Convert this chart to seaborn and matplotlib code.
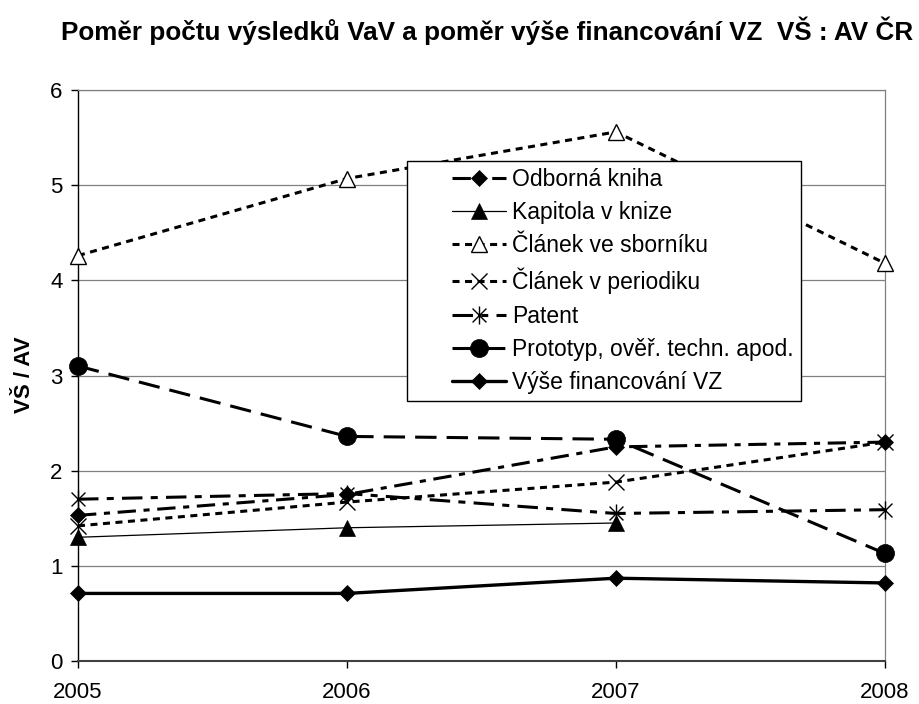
import numpy as np
import pandas as pd
import seaborn as sns
import matplotlib.pyplot as plt
from matplotlib.path import Path
from matplotlib.legend_handler import HandlerLine2D

years = [2005, 2006, 2007, 2008]
odborna_kniha = [1.53, 1.75, 2.25, 2.30]
kapitola = [1.30, 1.40, 1.45, np.nan]
clanek_sbornik = [4.26, 5.07, 5.56, 4.18]
clanek_periodikum = [1.42, 1.67, 1.88, 2.30]
patent = [1.70, 1.76, 1.55, 1.59]
prototyp = [3.10, 2.36, 2.33, 1.13]
vyse_vz = [0.71, 0.71, 0.87, 0.82]

names = ["Odborná kniha", "Kapitola v knize", "Článek ve sborníku",
         "Článek v periodiku", "Patent", "Prototyp, ověř. techn. apod.",
         "Výše financování VZ"]
values = [odborna_kniha, kapitola, clanek_sbornik, clanek_periodikum,
          patent, prototyp, vyse_vz]

df = pd.DataFrame({"rok": years * len(names),
                   "serie": np.repeat(names, len(years)),
                   "pomer": np.concatenate(values)})

sns.set_style("white")
plt.rcParams["font.family"] = ["Liberation Sans", "DejaVu Sans"]
plt.rcParams["text.color"] = "black"

# excel-like asterisk: x with a vertical bar
star = Path([(-1, -1), (1, 1), (-1, 1), (1, -1), (0, -1.3), (0, 1.3)],
            [Path.MOVETO, Path.LINETO, Path.MOVETO, Path.LINETO,
             Path.MOVETO, Path.LINETO])

styles = {
    "Odborná kniha": dict(lw=2.2, ls=(0, (6, 2.5, 2, 2.5)), marker="D", ms=8),
    "Kapitola v knize": dict(lw=0.9, ls="-", marker="^", ms=11),
    "Článek ve sborníku": dict(lw=2.2, ls=(0, (2.3, 1.8)), marker="^", ms=11,
                               mfc="white", mew=1),
    "Článek v periodiku": dict(lw=2.2, ls=(0, (2.3, 1.8)), marker="x", ms=12,
                               mew=1),
    "Patent": dict(lw=2.2, ls=(0, (6.7, 2.7, 2.3, 2.7)), marker=star, ms=13,
                   mfc="none", mew=1),
    "Prototyp, ověř. techn. apod.": dict(lw=2.2, ls=(0, (7, 3.3)), marker="o",
                                         ms=13),
    "Výše financování VZ": dict(lw=2.4, ls="-", marker="D", ms=8),
}

fig = plt.figure(figsize=(9.2, 7.04), dpi=100)
ax = fig.add_axes([0.0848, 0.0611, 0.877, 0.811])

for name in names:
    st = styles[name]
    sub = df[df["serie"] == name]
    sns.lineplot(data=sub, x="rok", y="pomer", ax=ax, color="black",
                 estimator=None, label=name, clip_on=False, zorder=3,
                 linewidth=st["lw"], linestyle=st["ls"], marker=st["marker"],
                 markersize=st["ms"], markerfacecolor=st.get("mfc", "black"),
                 markeredgecolor="black", markeredgewidth=st.get("mew", 0.5))

ax.set_xlim(2005, 2008)
ax.set_ylim(0, 6)
ax.set_xticks(years)
ax.set_xticklabels([str(y) for y in years])
ax.set_yticks(range(0, 7))
ax.yaxis.grid(True, color="#808080", lw=0.9)
ax.set_axisbelow(True)
ax.set_xlabel("")
ax.set_ylabel("")

for side in ["top", "right"]:
    ax.spines[side].set_color("#808080")
    ax.spines[side].set_linewidth(0.9)
ax.spines["bottom"].set_color("#404040")
ax.spines["bottom"].set_linewidth(1.5)
ax.spines["left"].set_color("black")
ax.spines["left"].set_linewidth(1)

ax.tick_params(axis="y", left=True, length=5, width=1, direction="out",
               pad=6, labelsize=16, colors="black")
ax.tick_params(axis="x", bottom=True, length=5, width=1, direction="out",
               pad=10, labelsize=16, colors="black")

handles, labels = ax.get_legend_handles_labels()
ax.legend(handles, labels, loc="upper left",
          bbox_to_anchor=(407 / 920, 1 - 161 / 704),
          bbox_transform=fig.transFigure,
          fontsize=16.5, frameon=True, fancybox=False, edgecolor="black",
          framealpha=1, borderpad=0.3, labelspacing=0.45,
          handlelength=4.0, handletextpad=0.3, borderaxespad=0,
          handler_map={h: HandlerLine2D(xpad=1.65, numpoints=1) for h in handles})
ax.get_legend().get_frame().set_linewidth(1)
ax.get_legend().set_zorder(5)

fig.text(487 / 920, 1 - 40 / 704,
         "Poměr počtu výsledků VaV a poměr výše financování VZ  VŠ : AV ČR",
         ha="center", va="baseline", fontsize=18.8, fontweight="bold",
         color="black")
fig.text(25 / 920, 1 - 375 / 704, "VŠ / AV", rotation=90, ha="center",
         va="center", fontsize=16, fontweight="bold", color="black")

fig.savefig("out.png", dpi=100)
